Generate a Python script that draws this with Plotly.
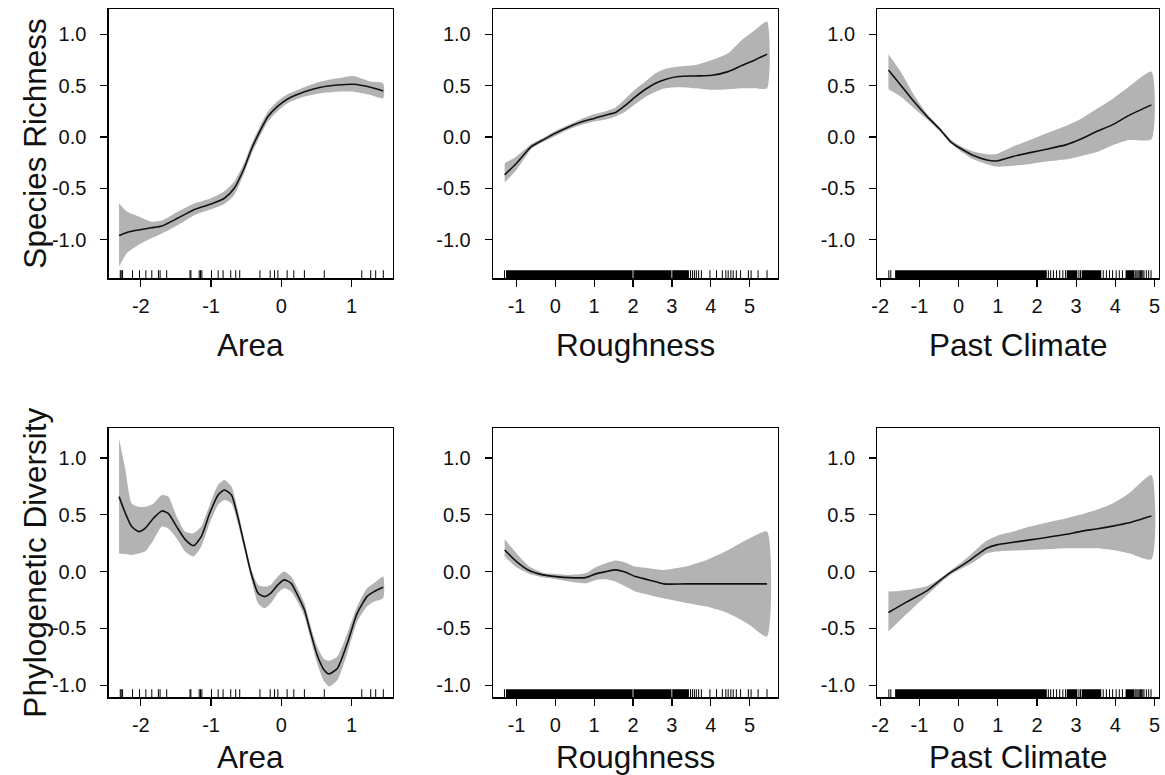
import plotly.graph_objects as go

# ---------------- data ----------------
# Row 1: Species Richness
sr_area_x = [-2.31, -2.2, -2.03, -1.85, -1.70, -1.47, -1.23, -1.0, -0.81, -0.67, -0.52, -0.43, -0.33, -0.19, -0.05, 0.09, 0.33, 0.56, 0.80, 1.03, 1.27, 1.45]
sr_area_fit = [-0.96, -0.93, -0.906, -0.885, -0.867, -0.79, -0.705, -0.653, -0.597, -0.50, -0.29, -0.127, 0.02, 0.198, 0.30, 0.37, 0.44, 0.484, 0.506, 0.513, 0.484, 0.448]
sr_area_hi = [-0.646, -0.727, -0.776, -0.825, -0.815, -0.727, -0.646, -0.597, -0.53, -0.435, -0.24, -0.078, 0.068, 0.247, 0.35, 0.416, 0.484, 0.539, 0.571, 0.594, 0.539, 0.523]
sr_area_lo = [-1.263, -1.133, -1.05, -0.987, -0.94, -0.857, -0.76, -0.705, -0.653, -0.565, -0.34, -0.175, -0.03, 0.149, 0.253, 0.328, 0.393, 0.425, 0.44, 0.44, 0.409, 0.377]

sr_rough_x = [-1.305, -1.0, -0.62, -0.32, 0.0, 0.36, 0.70, 1.0, 1.30, 1.55, 1.81, 2.06, 2.32, 2.58, 2.83, 3.17, 3.60, 4.03, 4.45, 4.80, 5.14, 5.45]
sr_rough_fit = [-0.37, -0.256, -0.094, -0.03, 0.036, 0.10, 0.15, 0.18, 0.214, 0.237, 0.31, 0.39, 0.464, 0.523, 0.56, 0.588, 0.594, 0.60, 0.636, 0.695, 0.75, 0.805]
sr_rough_hi = [-0.256, -0.19, -0.07, -0.01, 0.058, 0.12, 0.18, 0.22, 0.25, 0.286, 0.374, 0.464, 0.54, 0.62, 0.662, 0.685, 0.70, 0.75, 0.815, 0.945, 1.04, 1.123]
sr_rough_lo = [-0.445, -0.32, -0.117, -0.05, 0.01, 0.075, 0.12, 0.15, 0.17, 0.20, 0.247, 0.32, 0.39, 0.44, 0.474, 0.484, 0.474, 0.458, 0.464, 0.474, 0.474, 0.474]

sr_clim_x = [-1.79, -1.48, -1.14, -0.80, -0.46, -0.21, 0.04, 0.38, 0.72, 0.97, 1.39, 1.82, 2.24, 2.75, 3.09, 3.51, 3.93, 4.35, 4.92]
sr_clim_fit = [0.653, 0.506, 0.344, 0.198, 0.068, -0.045, -0.11, -0.18, -0.224, -0.234, -0.19, -0.153, -0.12, -0.075, -0.025, 0.05, 0.12, 0.21, 0.312]
sr_clim_hi = [0.805, 0.636, 0.409, 0.224, 0.084, -0.023, -0.088, -0.143, -0.169, -0.166, -0.094, -0.03, 0.036, 0.11, 0.17, 0.27, 0.37, 0.49, 0.636]
sr_clim_lo = [0.464, 0.393, 0.28, 0.172, 0.045, -0.06, -0.136, -0.218, -0.266, -0.289, -0.28, -0.263, -0.24, -0.218, -0.19, -0.15, -0.08, -0.03, -0.023]

# Row 2: Phylogenetic Diversity
pd_area_x = [-2.31, -2.22, -2.13, -2.03, -1.94, -1.82, -1.70, -1.61, -1.49, -1.37, -1.25, -1.14, -1.02, -0.90, -0.81, -0.71, -0.62, -0.52, -0.43, -0.33, -0.24, -0.15, -0.05, 0.04, 0.14, 0.23, 0.33, 0.42, 0.51, 0.61, 0.68, 0.80, 0.94, 1.08, 1.22, 1.32, 1.45]
pd_area_fit = [0.66, 0.513, 0.396, 0.352, 0.38, 0.47, 0.534, 0.513, 0.396, 0.284, 0.229, 0.308, 0.513, 0.674, 0.718, 0.674, 0.484, 0.22, -0.015, -0.19, -0.22, -0.19, -0.117, -0.073, -0.103, -0.205, -0.337, -0.543, -0.733, -0.865, -0.90, -0.85, -0.63, -0.367, -0.22, -0.176, -0.138]
pd_area_hi = [1.17, 0.897, 0.60, 0.57, 0.57, 0.60, 0.674, 0.66, 0.484, 0.352, 0.337, 0.396, 0.587, 0.762, 0.806, 0.748, 0.543, 0.264, 0.03, -0.117, -0.132, -0.117, -0.044, 0.0, -0.044, -0.147, -0.279, -0.484, -0.66, -0.77, -0.785, -0.745, -0.543, -0.308, -0.147, -0.103, -0.044]
pd_area_lo = [0.16, 0.155, 0.147, 0.16, 0.176, 0.279, 0.396, 0.38, 0.293, 0.176, 0.132, 0.22, 0.425, 0.587, 0.63, 0.60, 0.425, 0.176, -0.059, -0.279, -0.323, -0.279, -0.19, -0.147, -0.176, -0.264, -0.396, -0.60, -0.806, -0.968, -1.01, -0.953, -0.718, -0.44, -0.308, -0.264, -0.235]

pd_rough_x = [-1.305, -1.0, -0.67, -0.32, 0.02, 0.36, 0.78, 1.04, 1.30, 1.55, 1.81, 2.06, 2.41, 2.79, 3.34, 3.9, 4.45, 5.0, 5.45]
pd_rough_fit = [0.19, 0.088, 0.009, -0.029, -0.044, -0.053, -0.053, -0.02, 0.0, 0.015, -0.006, -0.044, -0.073, -0.108, -0.108, -0.108, -0.108, -0.108, -0.108]
pd_rough_hi = [0.284, 0.161, 0.044, -0.009, -0.02, -0.029, -0.015, 0.038, 0.073, 0.097, 0.079, 0.044, 0.03, 0.015, 0.044, 0.103, 0.19, 0.293, 0.352]
pd_rough_lo = [0.132, 0.038, -0.02, -0.05, -0.067, -0.088, -0.103, -0.073, -0.067, -0.088, -0.132, -0.176, -0.205, -0.235, -0.273, -0.308, -0.367, -0.469, -0.572]

pd_clim_x = [-1.79, -1.31, -0.80, -0.46, -0.21, 0.04, 0.30, 0.55, 0.72, 0.97, 1.39, 1.82, 2.24, 2.75, 3.09, 3.51, 3.93, 4.35, 4.92]
pd_clim_fit = [-0.36, -0.264, -0.167, -0.073, -0.009, 0.044, 0.103, 0.167, 0.205, 0.235, 0.258, 0.279, 0.30, 0.328, 0.352, 0.375, 0.40, 0.43, 0.49]
pd_clim_hi = [-0.176, -0.161, -0.126, -0.059, 0.009, 0.073, 0.147, 0.226, 0.273, 0.314, 0.352, 0.396, 0.43, 0.469, 0.50, 0.543, 0.60, 0.69, 0.85]
pd_clim_lo = [-0.528, -0.367, -0.205, -0.097, -0.029, 0.02, 0.067, 0.123, 0.161, 0.176, 0.185, 0.19, 0.196, 0.205, 0.205, 0.205, 0.19, 0.161, 0.108]

# Rug (observed predictor values)
area_rug = [-2.293, -2.279, -2.26, -2.118, -2.019, -1.929, -1.844, -1.75, -1.726, -1.632, -1.30, -1.287,
            -1.169, -1.15, -1.131, -0.994, -0.899, -0.829, -0.72, -0.649, -0.592, -0.304, -0.158, -0.096,
            -0.049, 0.083, 0.178, 0.329, 0.612, 1.146, 1.273, 1.344, 1.453]
rough_rug_dense = [(-1.27, 1.99), (2.01, 2.99), (3.01, 3.44)]
rough_rug = [-1.31, 3.48, 3.53, 3.58, 3.63, 3.69, 3.76, 3.98, 4.15, 4.30, 4.39, 4.45, 4.52, 4.58, 4.66,
             4.77, 4.97, 5.04, 5.22, 5.45]
clim_rug_dense = [(-1.62, 2.25), (2.76, 3.03), (3.14, 3.64), (4.26, 4.49)]
clim_rug = [-1.78, -1.73, 2.29, 2.35, 2.42, 2.50, 2.58, 2.66, 2.73, 3.07, 3.11, 3.69, 3.77, 3.85, 3.93,
            4.02, 4.10, 4.18, 4.52, 4.55, 4.58, 4.61, 4.64, 4.67, 4.70, 4.73, 4.79, 4.85, 4.91]

# Labels and ticks
row_titles = ["Species Richness", "Phylogenetic Diversity"]
col_titles = ["Area", "Roughness", "Past Climate"]
y_tickvals = [-1.0, -0.5, 0.0, 0.5, 1.0]
y_ticktext = ["-1.0", "-0.5", "0.0", "0.5", "1.0"]
x_tickvals = [[-2, -1, 0, 1], [-1, 0, 1, 2, 3, 4, 5], [-2, -1, 0, 1, 2, 3, 4, 5]]
x_ticktext = [["-2", "-1", "0", "1"], ["-1", "0", "1", "2", "3", "4", "5"], ["-2", "-1", "0", "1", "2", "3", "4", "5"]]

# ---------------- layout geometry ----------------
W, H = 1165, 775
# positions below are in page pixels
col_px = [(103.3, 389.3), (490.0, 776.7), (876.7, 1160.0)]
row_px = [(9.3, 278.3), (428.3, 697.3)]
x_ranges = [[-2.458, 1.590], [-1.604, 5.734], [-2.071, 5.114]]
y_ranges = [[-1.377, 1.243], [-1.106, 1.261]]


def fx(p):
    return p / W


def fy(p):
    return 1 - p / H


panels = [
    [(sr_area_x, sr_area_fit, sr_area_lo, sr_area_hi),
     (sr_rough_x, sr_rough_fit, sr_rough_lo, sr_rough_hi),
     (sr_clim_x, sr_clim_fit, sr_clim_lo, sr_clim_hi)],
    [(pd_area_x, pd_area_fit, pd_area_lo, pd_area_hi),
     (pd_rough_x, pd_rough_fit, pd_rough_lo, pd_rough_hi),
     (pd_clim_x, pd_clim_fit, pd_clim_lo, pd_clim_hi)],
]
rugs = [(area_rug, []), (rough_rug, rough_rug_dense), (clim_rug, clim_rug_dense)]

BAND = "#b3b3b3"
TICKFONT = dict(family="Liberation Sans, Arial, sans-serif", size=20, color="#111111")
TITLEFONT = dict(family="Liberation Sans, Arial, sans-serif", size=31.5, color="#111111")

fig = go.Figure()
layout = dict(width=W, height=H, margin=dict(l=0, r=0, t=0, b=0),
              paper_bgcolor="white", plot_bgcolor="white", showlegend=False)
shapes = []
annotations = []

idx = 0
for r in range(2):
    for c in range(3):
        idx += 1
        xa = "x" if idx == 1 else f"x{idx}"
        ya = "y" if idx == 1 else f"y{idx}"
        xkey = "xaxis" if idx == 1 else f"xaxis{idx}"
        ykey = "yaxis" if idx == 1 else f"yaxis{idx}"
        x, fit, lo, hi = panels[r][c]
        # confidence band
        fig.add_trace(go.Scatter(x=list(x) + list(x)[::-1], y=list(hi) + list(lo)[::-1],
                                 fill="toself", fillcolor=BAND, mode="lines",
                                 line=dict(width=0, color=BAND, shape="spline", smoothing=0.6),
                                 xaxis=xa, yaxis=ya, hoverinfo="skip"))
        # fitted line
        fig.add_trace(go.Scatter(x=x, y=fit, mode="lines",
                                 line=dict(color="#111111", width=1.6, shape="spline", smoothing=0.6),
                                 xaxis=xa, yaxis=ya))
        x0p, x1p = col_px[c]
        y0p, y1p = row_px[r]
        axis_common = dict(showgrid=False, zeroline=False, showline=True, linecolor="black",
                           linewidth=1.3, mirror=True, ticks="outside", ticklen=7,
                           tickwidth=1.3, tickcolor="black", tickfont=TICKFONT, fixedrange=True)
        layout[xkey] = dict(axis_common, domain=[fx(x0p), fx(x1p)], range=x_ranges[c],
                            tickmode="array", tickvals=x_tickvals[c], ticktext=x_ticktext[c],
                            ticklabelstandoff=2, anchor=ya)
        layout[ykey] = dict(axis_common, domain=[fy(y1p), fy(y0p)], range=y_ranges[r],
                            tickmode="array", tickvals=y_tickvals, ticktext=y_ticktext,
                            ticklabelstandoff=10, anchor=xa)
        # rug
        ticks, dense = rugs[c]
        for v in ticks:
            shapes.append(dict(type="line", xref=xa, yref=f"{ya} domain", x0=v, x1=v, y0=0, y1=0.03,
                               line=dict(color="black", width=1)))
        for a, b in dense:
            shapes.append(dict(type="rect", xref=xa, yref=f"{ya} domain", x0=a, x1=b, y0=0, y1=0.03,
                               fillcolor="black", line=dict(width=0)))
        # x-axis title
        title_y = 345 if r == 0 else 757
        annotations.append(dict(text=col_titles[c], xref="paper", yref="paper",
                                x=fx((x0p + x1p) / 2), y=fy(title_y),
                                xanchor="center", yanchor="middle", showarrow=False, font=TITLEFONT))
    # row title
    y0p, y1p = row_px[r]
    annotations.append(dict(text=row_titles[r], xref="paper", yref="paper",
                            x=fx(29), y=fy((y0p + y1p) / 2), textangle=-90,
                            xanchor="center", yanchor="middle", showarrow=False, font=TITLEFONT))

layout["shapes"] = shapes
layout["annotations"] = annotations
fig.update_layout(**layout)
# place the figure at the page origin (remove the default body margin)
fig.write_html("out.html", config={"displayModeBar": False, "staticPlot": True},
               post_script="document.body.style.margin='0';document.body.style.overflow='hidden';")
